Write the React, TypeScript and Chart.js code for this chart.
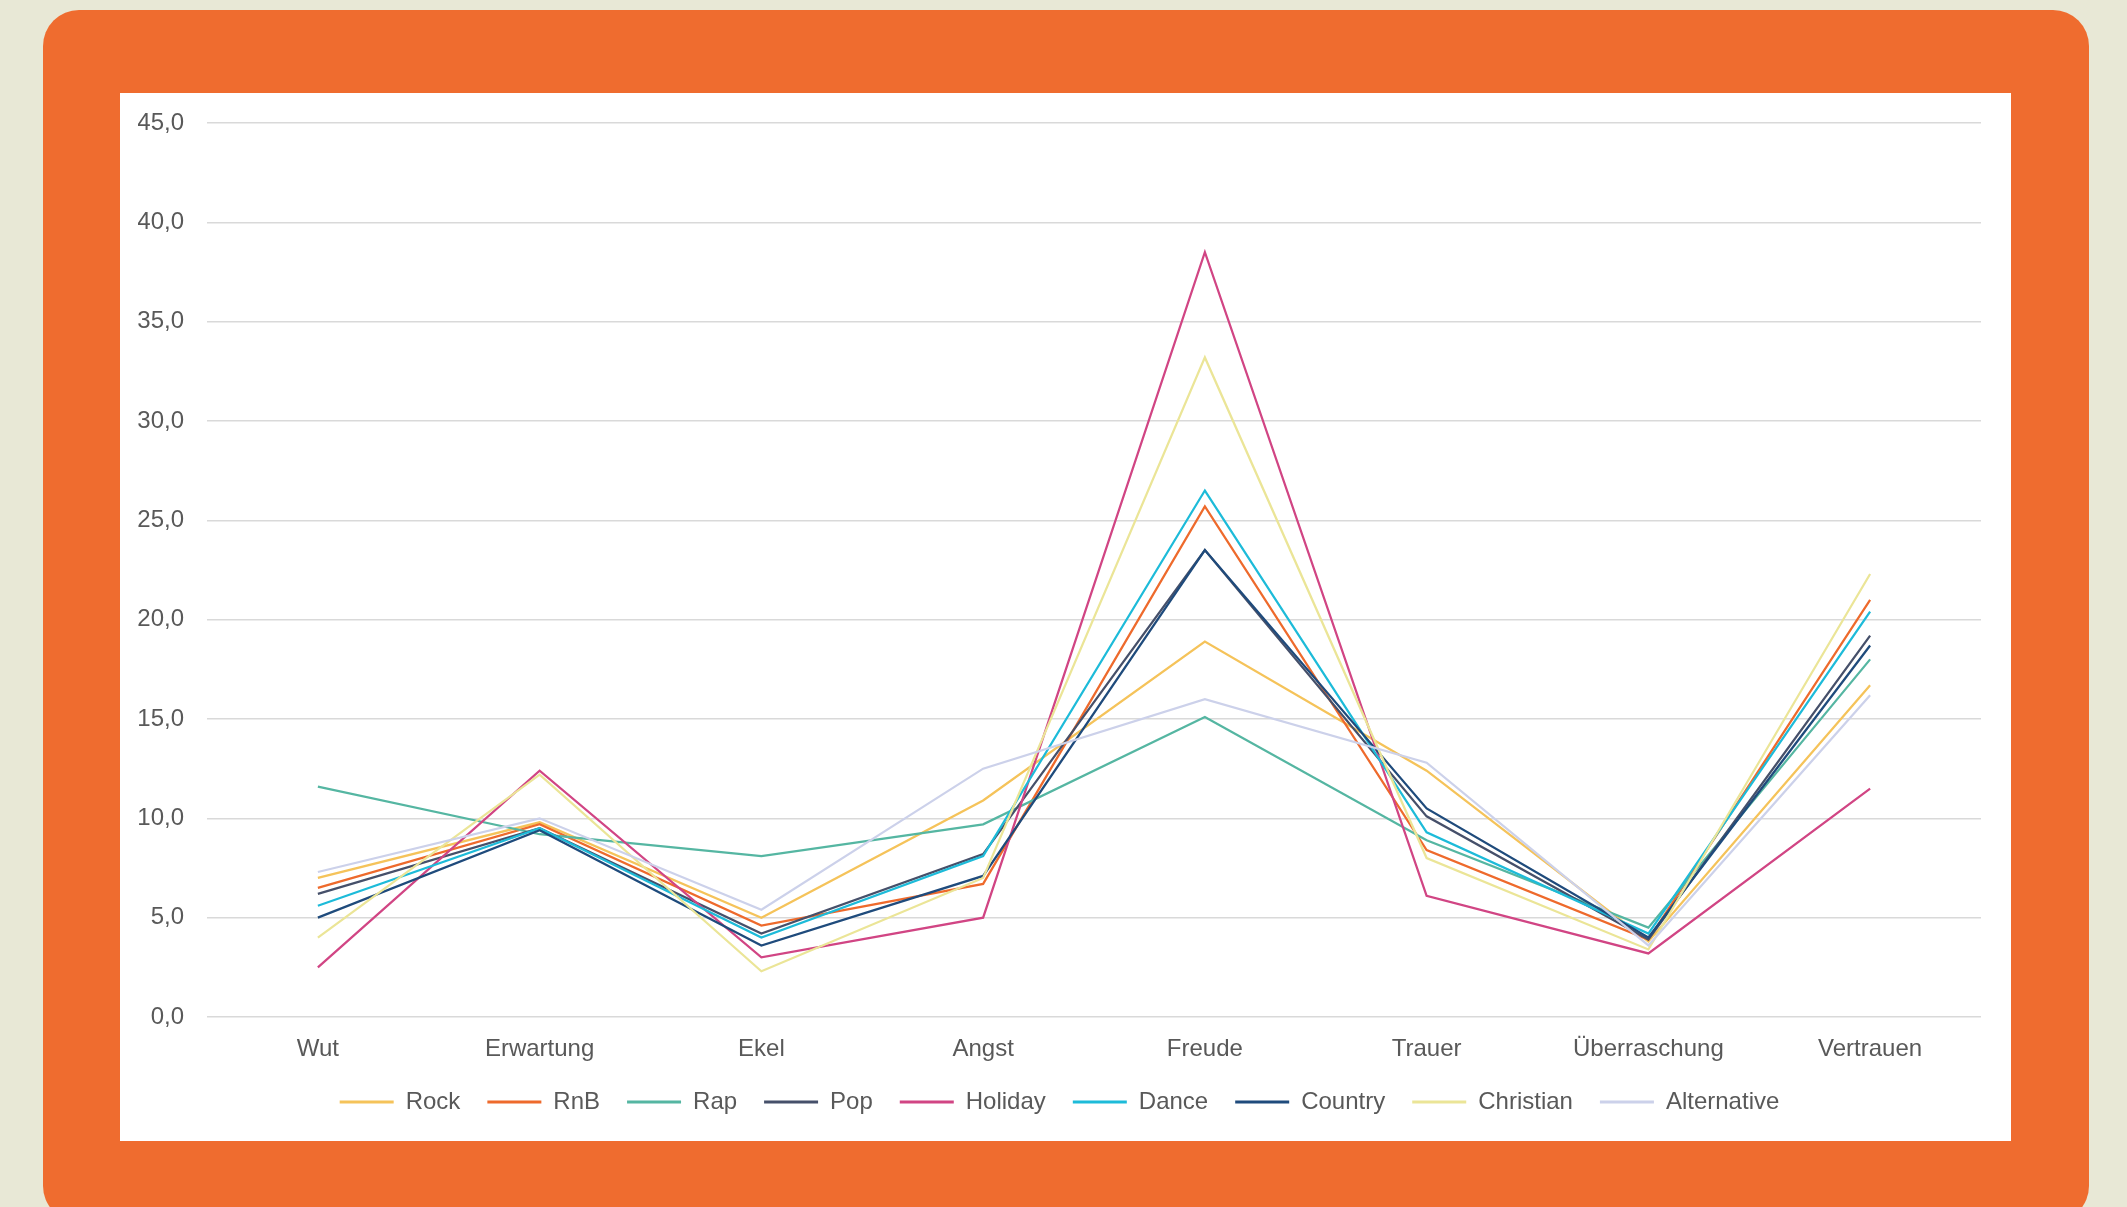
import React, { useEffect, useRef } from "react";
import { Chart, registerables } from "chart.js";

Chart.register(...registerables);

const categories = ["Wut", "Erwartung", "Ekel", "Angst", "Freude", "Trauer", "Überraschung", "Vertrauen"];

const seriesNames = ["Rock", "RnB", "Rap", "Pop", "Holiday", "Dance", "Country", "Christian", "Alternative"];
const seriesColors = ["#F5C35A", "#EE6A2C", "#55B6A2", "#46506A", "#D14584", "#1DBBD9", "#1F4B7C", "#EBE597", "#CCD1EA"];

const rock = [7.0, 9.8, 5.0, 10.9, 18.9, 12.4, 3.8, 16.7];
const rnb = [6.5, 9.7, 4.6, 6.7, 25.7, 8.4, 3.9, 21.0];
const rap = [11.6, 9.2, 8.1, 9.7, 15.1, 8.9, 4.5, 18.0];
const pop = [6.2, 9.5, 4.2, 8.2, 23.5, 10.1, 3.9, 19.2];
const holiday = [2.5, 12.4, 3.0, 5.0, 38.5, 6.1, 3.2, 11.5];
const dance = [5.6, 9.5, 4.0, 8.1, 26.5, 9.3, 4.2, 20.4];
const country = [5.0, 9.4, 3.6, 7.1, 23.5, 10.5, 4.0, 18.7];
const christian = [4.0, 12.2, 2.3, 7.0, 33.2, 8.0, 3.4, 22.3];
const alternative = [7.3, 10.0, 5.4, 12.5, 16.0, 12.8, 3.6, 16.2];

const seriesValues = [rock, rnb, rap, pop, holiday, dance, country, christian, alternative];

const yMin = 0;
const yMax = 45;
const yStep = 5;

const FONT = "'Liberation Sans', Arial, sans-serif";
const TEXT = "#595959";
const FS = 24;

export default function App() {
  const ref = useRef<HTMLCanvasElement | null>(null);

  useEffect(() => {
    if (!ref.current) return;
    const chart = new Chart(ref.current, {
      type: "line",
      data: {
        labels: categories,
        datasets: seriesNames.map((name, i) => ({
          label: name,
          data: seriesValues[i],
          borderColor: seriesColors[i],
          backgroundColor: seriesColors[i],
          borderWidth: 2.25,
          pointRadius: 0,
          pointHoverRadius: 0,
          tension: 0,
          fill: false,
          order: -i,
        })),
      },
      options: {
        responsive: false,
        animation: false,
        devicePixelRatio: 1,
        layout: { padding: { top: 30, left: 18, right: 30, bottom: 17 } },
        plugins: {
          tooltip: { enabled: false },
          legend: {
            position: "bottom",
            labels: {
              font: { family: FONT, size: FS },
              color: TEXT,
              boxWidth: 54,
              boxHeight: 3,
              padding: 27,
              sort: (a: any, b: any) => a.datasetIndex - b.datasetIndex,
              generateLabels: () =>
                seriesNames.map((name, i) => ({
                  text: name,
                  fillStyle: seriesColors[i],
                  strokeStyle: seriesColors[i],
                  lineWidth: 0,
                  hidden: false,
                  datasetIndex: i,
                  fontColor: TEXT,
                })),
            },
          },
        },
        scales: {
          x: {
            offset: true,
            grid: { display: false, drawTicks: false },
            border: { display: false },
            ticks: { font: { family: FONT, size: FS }, color: TEXT, padding: 18, maxRotation: 0 },
            afterFit: (scale: any) => {
              scale.height = 46;
              scale.paddingLeft = 0;
              scale.paddingRight = 0;
            },
          },
          y: {
            min: yMin,
            max: yMax,
            grid: { color: "#D9D9D9", lineWidth: 1.5, drawTicks: false },
            border: { display: false },
            ticks: {
              stepSize: yStep,
              font: { family: FONT, size: FS },
              color: TEXT,
              padding: 23,
              callback: (v: any) => Number(v).toFixed(1).replace(".", ","),
            },
            afterFit: (scale: any) => {
              scale.width = 69;
              scale.paddingTop = 0;
              scale.paddingBottom = 0;
            },
          },
        },
      },
    });
    return () => chart.destroy();
  }, []);

  return (
    <div style={{ position: "fixed", inset: 0, background: "#E8E8D6", overflow: "hidden" }}>
      <div
        style={{
          position: "absolute",
          left: 43,
          top: 10,
          width: 2046,
          height: 1212,
          borderRadius: 36,
          background: "#EF6C2F",
        }}
      />
      <div style={{ position: "absolute", left: 120, top: 93, width: 1891, height: 1048, background: "#FFFFFF" }}>
        <canvas ref={ref} width={1891} height={1048} style={{ display: "block" }} />
      </div>
    </div>
  );
}
